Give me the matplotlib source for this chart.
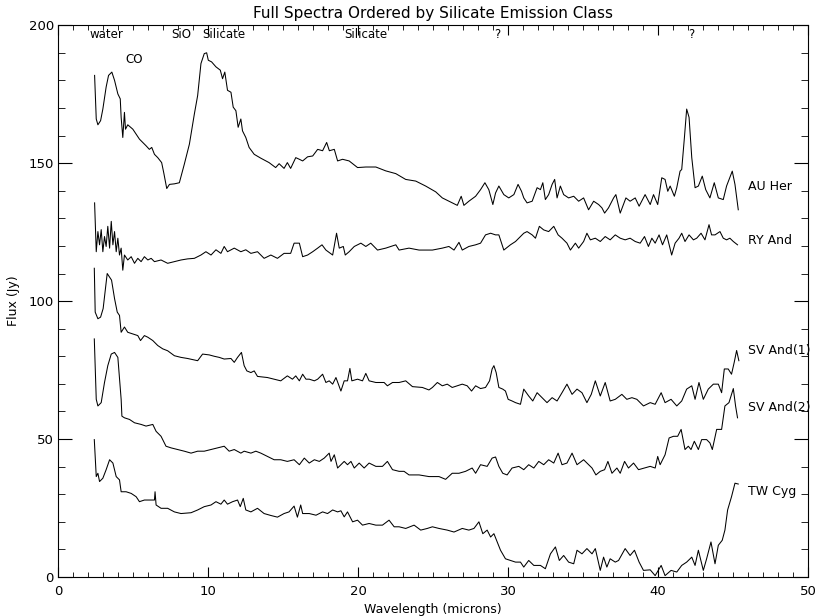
import numpy as np
import matplotlib.pyplot as plt

# wavelength (microns) and flux (Jy)
au_her_x = [2.44, 2.55, 2.66, 2.84, 2.99, 3.21, 3.37, 3.59, 3.77, 3.99, 4.15, 4.21, 4.32, 4.43, 4.5,
            4.65, 4.99, 5.21, 5.43, 5.65, 5.87, 6.09, 6.25, 6.43, 6.65, 6.91, 7.05, 7.25, 7.43, 7.76,
            8.09, 8.42, 8.76, 9.09, 9.31, 9.53, 9.75, 9.91, 10.02, 10.24, 10.53, 10.82, 10.97, 11.12,
            11.3, 11.53, 11.68, 11.86, 12.01, 12.19, 12.3, 12.52, 12.74, 13.08, 13.52, 14.07, 14.51,
            14.74, 15.07, 15.29, 15.51, 15.85, 16.09, 16.31, 16.64, 16.98, 17.31, 17.64, 17.91, 18.09,
            18.42, 18.64, 18.97, 19.41, 19.97, 20.52, 21.19, 21.85, 22.52, 23.18, 23.85, 24.51, 25.18,
            25.62, 26.06, 26.62, 26.88, 27.06, 27.39, 27.84, 28.17, 28.46, 28.72, 28.99, 29.17, 29.39,
            29.72, 30.05, 30.39, 30.67, 30.9, 31.05, 31.27, 31.61, 31.94, 32.16, 32.32, 32.49, 32.71,
            32.94, 33.11, 33.27, 33.49, 33.71, 34.04, 34.38, 34.71, 35.04, 35.37, 35.71, 36.04, 36.26,
            36.44, 36.7, 37.04, 37.19, 37.48, 37.86, 38.14, 38.48, 38.74, 39.14, 39.48, 39.7, 39.98,
            40.25, 40.47, 40.65, 40.81, 41.09, 41.25, 41.47, 41.58, 41.76, 41.91, 42.07, 42.25, 42.47,
            42.69, 42.95, 43.18, 43.46, 43.75, 44.02, 44.35, 44.57, 44.95, 45.13, 45.35]
au_her_y = [181.8, 166, 163.9, 165.4, 169.6, 177.6, 181.8, 183, 180, 175.1, 173.3, 166.6, 159.3, 168.4, 162.3,
            163.9, 162.3, 160.5, 158.7, 157.5, 156.3, 155, 155.7, 153.2, 152, 150.2, 146.5, 140.8, 142.3, 142.5,
            142.9, 149.6, 156.9, 167.8, 174.5, 186.1, 189.7, 190, 187.3, 186.7, 184.9, 183.7, 180.6, 183,
            176.4, 175.7, 170.3, 169, 163, 166, 161.7, 159.3, 155.7, 153.2, 151.8, 150.2, 148.4,
            149.8, 148.1, 150.2, 148.1, 152, 151.4, 150.8, 152.3, 152.6, 155, 154.5, 157.5, 154.5,
            155, 150.8, 151.4, 150.8, 148.4, 148.6, 148.6, 147.2, 146.2, 144.1, 143.5, 141.7, 139.6,
            137.4, 136.2, 134.7, 138, 134.7, 136.2, 138, 140.4, 142.9, 140.4, 135, 139.2, 141.7,
            138.6, 137.4, 138.6, 142.3, 139.8, 137.4, 135.6, 136.2, 141.1, 140.4, 142.9, 136.8, 138.6,
            142.3, 144.1, 137.4, 141.7, 138.6, 137.4, 138, 136.2, 137.4, 133.1, 136.2, 135, 133.8,
            131.9, 133.8, 137.4, 138.6, 131.9, 137.4, 136.2, 137.4, 134.4, 138.6, 135, 138.6, 135,
            144.7, 144.1, 139.8, 141.7, 138, 141.1, 147.1, 147.7, 159.3, 169.6, 166.6, 152, 141.1,
            141.7, 145.3, 140.4, 137.4, 142.9, 137.4, 136.8, 141.7, 147.1, 142.3, 133.1]

ry_and_x = [2.44, 2.48, 2.55, 2.66, 2.77, 2.88, 2.99, 3.1, 3.21, 3.32, 3.44, 3.55, 3.66, 3.77, 3.88,
            3.99, 4.1, 4.21, 4.32, 4.43, 4.65, 4.88, 5.1, 5.32, 5.54, 5.76, 5.99, 6.21, 6.43, 6.87,
            7.31, 7.76, 8.2, 8.64, 9.09, 9.53, 9.86, 10.2, 10.53, 10.86, 11.08, 11.3, 11.75, 12.19,
            12.52, 12.86, 13.3, 13.74, 14.19, 14.63, 15.07, 15.51, 15.74, 16.09, 16.31, 16.64, 16.98,
            17.31, 17.6, 17.86, 18.31, 18.57, 18.75, 19.02, 19.15, 19.41, 19.75, 20.19, 20.52, 20.85,
            21.3, 21.85, 22.52, 22.74, 23.4, 24.07, 24.96, 25.62, 26.06, 26.4, 26.73, 26.95, 27.39,
            27.84, 28.17, 28.5, 28.84, 29.17, 29.39, 29.72, 30.16, 30.5, 30.72, 31.05, 31.27, 31.61,
            31.83, 32.09, 32.38, 32.71, 33.05, 33.34, 33.6, 33.93, 34.16, 34.49, 34.71, 35.04, 35.26,
            35.49, 35.82, 36.15, 36.48, 36.81, 37.15, 37.48, 37.81, 38.14, 38.48, 38.81, 39.1, 39.36,
            39.59, 39.81, 40.07, 40.3, 40.58, 40.91, 41.14, 41.4, 41.58, 41.8, 42.07, 42.36, 42.58,
            42.87, 43.13, 43.4, 43.57, 43.8, 44.13, 44.35, 44.57, 44.79, 45.02, 45.3]
ry_and_y = [135.6, 129.5, 117.9, 125.2, 120.4, 125.9, 117.9, 123.4, 119.8, 127.1, 119.2, 128.9, 120.4, 125.2, 117.9,
            122.8, 116.7, 119.2, 111.2, 116.7, 114.9, 116.1, 113.7, 115.5, 114.3, 116.1, 114.9, 115.5, 114.3, 114.9,
            113.7, 114.3, 114.9, 115.3, 115.5, 116.7, 117.9, 116.7, 118.6, 117.3, 119.8, 117.9, 119.2, 117.9,
            118.6, 117.3, 117.9, 115.5, 116.7, 115.5, 117.3, 117.3, 121, 121, 116.1, 116.7, 117.9,
            119.2, 120.4, 118.5, 116.7, 124.6, 119.2, 119.8, 116.7, 117.9, 119.8, 121, 119.8, 121,
            118.5, 119.2, 120.4, 118.5, 119.2, 118.5, 118.5, 119.2, 119.8, 118.5, 121.3, 118.5, 119.8,
            120.4, 121, 124, 124.6, 124, 124, 118.5, 120.4, 121.6, 122.8, 124.6, 125.2, 124,
            122.8, 127.1, 125.8, 125.2, 127.1, 124, 122.8, 121, 118.5, 121, 119.2, 121.6, 124.6,
            122.2, 122.8, 121.6, 123.4, 122.2, 124, 122.8, 122.2, 122.8, 121.6, 121, 123.4, 119.8,
            122.8, 121, 124, 120.4, 124, 116.7, 121, 122.8, 124.6, 121.6, 124, 122.2, 122.8,
            124.6, 122.2, 127.7, 124, 124, 125.2, 122.8, 122.2, 122.8, 121.6, 120.4]

sv_and1_x = [2.42, 2.48, 2.66, 2.84, 3.01, 3.28, 3.57, 3.77, 3.95, 4.1, 4.21, 4.43, 4.65, 4.99, 5.32,
             5.5, 5.76, 5.99, 6.32, 6.65, 6.98, 7.31, 7.76, 8.2, 8.64, 8.98, 9.31, 9.64, 10.08, 10.42,
             10.75, 11.08, 11.53, 11.75, 11.97, 12.23, 12.41, 12.59, 12.86, 13.08, 13.3, 13.96, 14.41,
             14.85, 15.29, 15.63, 15.85, 16.09, 16.31, 16.53, 16.75, 17.09, 17.31, 17.64, 17.86, 18.08,
             18.31, 18.53, 18.86, 19.08, 19.3, 19.46, 19.59, 19.97, 20.3, 20.52, 20.74, 21.19, 21.74,
             21.96, 22.3, 22.74, 23.18, 23.63, 24.29, 24.73, 24.96, 25.29, 25.62, 25.95, 26.28, 26.62,
             26.95, 27.28, 27.57, 27.84, 28.17, 28.5, 28.77, 28.94, 29.06, 29.21, 29.39, 29.65, 29.83,
             30.01, 30.27, 30.5, 30.83, 31.05, 31.38, 31.65, 31.94, 32.27, 32.6, 32.94, 33.27, 33.6,
             33.93, 34.27, 34.6, 34.93, 35.26, 35.55, 35.82, 36.15, 36.48, 36.81, 37.15, 37.59, 37.92,
             38.26, 38.59, 39.03, 39.48, 39.81, 40.21, 40.47, 40.87, 41.25, 41.58, 41.91, 42.25, 42.47,
             42.73, 43.02, 43.35, 43.69, 44.02, 44.24, 44.42, 44.68, 44.9, 45.08, 45.24, 45.39]
sv_and1_y = [111.9, 96, 93.6, 94.2, 97.3, 110, 107.6, 100.9, 96, 94.8, 88.7, 90.6, 88.7, 88.1, 87.5,
             85.7, 87.5, 86.9, 85.7, 83.9, 82.7, 82, 80.2, 79.6, 79.2, 78.8, 78.4, 80.8, 80.5, 80,
             79.6, 79, 79.2, 77.8, 79.6, 81.4, 76.6, 74.7, 74.1, 74.7, 72.7, 72.3, 71.7,
             71.1, 72.9, 71.7, 72.9, 71.1, 73.5, 71.7, 71.7, 71.1, 71.7, 73.5, 70.5, 71.1,
             69.9, 72.3, 67.4, 71.1, 71.1, 75.6, 71.1, 71.7, 71.1, 73.8, 71.1, 70.5, 70.5,
             69.3, 70.5, 70.5, 71.1, 69, 68.7, 67.8, 68.7, 70.5, 69.3, 69.9, 68.7, 69.3,
             69.9, 69.3, 67.4, 69.3, 68.3, 68.7, 71.1, 75.4, 76.6, 74.1, 68.7, 68.1, 67.4,
             64.4, 63.8, 63.2, 62.6, 68.1, 65.6, 63.8, 66.8, 65, 63.2, 65, 63.8, 66.8,
             69.9, 66.2, 68.1, 66.8, 63.2, 66.2, 71.1, 65.6, 70.5, 63.8, 64.4, 66.2, 64.4,
             65, 64.4, 62, 63.2, 62.6, 66.8, 63.2, 64.4, 62, 63.8, 68.1, 69.3, 64.4,
             70.5, 64.4, 68.1, 69.9, 69.9, 66.8, 75.4, 75.4, 73.5, 77.8, 82.1, 78.4]

sv_and2_x = [2.42, 2.55, 2.66, 2.88, 3.1, 3.32, 3.55, 3.77, 3.99, 4.21, 4.26, 4.43, 4.77, 5.1, 5.54,
             5.87, 6.32, 6.54, 6.87, 7.2, 7.54, 7.98, 8.42, 8.87, 9.31, 9.75, 10.2, 10.64, 11.08, 11.41,
             11.75, 12.19, 12.41, 12.86, 13.19, 13.52, 13.96, 14.41, 14.85, 15.29, 15.74, 16.09, 16.42,
             16.75, 17.09, 17.42, 17.75, 18.08, 18.2, 18.42, 18.64, 18.86, 19.08, 19.3, 19.53, 19.75,
             20.08, 20.41, 20.74, 21.19, 21.63, 21.96, 22.3, 22.74, 23.07, 23.4, 24.07, 24.73, 25.4,
             25.84, 26.28, 26.73, 27.17, 27.61, 27.84, 28.17, 28.61, 28.94, 29.17, 29.39, 29.65, 29.94,
             30.27, 30.72, 31.05, 31.38, 31.72, 32.05, 32.38, 32.71, 33.05, 33.34, 33.6, 33.93, 34.27,
             34.6, 35.04, 35.37, 35.6, 35.86, 36.15, 36.44, 36.66, 36.93, 37.26, 37.48, 37.77, 38.03,
             38.37, 38.7, 39.1, 39.48, 39.81, 39.98, 40.14, 40.47, 40.74, 41.03, 41.31, 41.54, 41.8,
             42.02, 42.2, 42.42, 42.69, 42.91, 43.24, 43.46, 43.62, 43.91, 44.24, 44.46, 44.73, 45.02,
             45.17, 45.3]
sv_and2_y = [86.3, 64.4, 62, 63.2, 70.5, 76.6, 80.8, 81.4, 79.6, 64.4, 58.3, 57.7, 57.1, 55.9, 55.3,
             54.7, 55.3, 52.8, 51, 47.4, 46.8, 46.2, 45.6, 44.9, 45.6, 45.6, 46.2, 46.8, 47.4, 45.6,
             46.2, 44.9, 45.6, 44.9, 45.6, 44.9, 43.7, 42.5, 42.5, 41.9, 42.5, 40.7, 43.1,
             41.3, 42.5, 41.9, 43.1, 44.9, 41.9, 44.3, 39.5, 40.7, 41.9, 40.7, 41.9, 39.5,
             41.3, 39.5, 41.3, 40.1, 40.1, 41.9, 38.9, 38.3, 38.3, 37, 37, 36.4, 36.4,
             35.4, 37.6, 37.6, 38.3, 39.5, 37.6, 40.7, 40.1, 43.1, 43.5, 40.1, 37.6, 37,
             39.5, 40.1, 38.9, 40.7, 39.5, 41.9, 40.7, 42.5, 41.3, 44.9, 40.7, 41.3, 44.9,
             40.7, 42.5, 40.7, 39.5, 37, 38.3, 38.9, 41.9, 37.6, 39.5, 37.6, 41.9, 39.5,
             41.3, 38.9, 39.5, 40.1, 39.5, 43.7, 40.7, 44.3, 50.4, 51, 51, 53.5, 46.2,
             47.4, 46.2, 49.2, 46.2, 49.8, 49.8, 48.6, 46.2, 53.5, 53.5, 62, 63.2, 68.3,
             62, 57.7]

tw_cyg_x = [2.42, 2.55, 2.66, 2.77, 2.99, 3.21, 3.44, 3.66, 3.88, 4.1, 4.21, 4.54, 4.88, 5.21, 5.43,
            5.76, 6.1, 6.43, 6.47, 6.54, 6.87, 7.31, 7.76, 8.2, 8.87, 9.31, 9.75, 10.2, 10.53, 10.86,
            11.08, 11.3, 11.64, 11.97, 12.15, 12.35, 12.52, 12.86, 13.3, 13.74, 14.19, 14.63, 15.07,
            15.4, 15.74, 15.96, 16.18, 16.31, 16.75, 17.2, 17.64, 17.97, 18.31, 18.64, 18.86, 19.08,
            19.3, 19.64, 19.97, 20.3, 20.74, 21.19, 21.63, 22.07, 22.41, 22.74, 23.18, 23.74, 24.18,
            24.62, 24.96, 25.4, 25.95, 26.4, 26.95, 27.39, 27.73, 28.06, 28.32, 28.61, 28.84, 29.06,
            29.28, 29.5, 29.83, 30.16, 30.5, 30.83, 31.05, 31.38, 31.72, 32.16, 32.49, 32.83, 33.16,
            33.42, 33.71, 34.04, 34.38, 34.6, 34.93, 35.26, 35.6, 35.82, 36.15, 36.37, 36.59, 36.81,
            37.15, 37.37, 37.81, 38.14, 38.43, 38.74, 39.03, 39.48, 39.81, 40.21, 40.47, 40.87, 41.25,
            41.58, 41.91, 42.25, 42.47, 42.69, 43.02, 43.24, 43.53, 43.8, 44.02, 44.28, 44.46, 44.64,
            44.9, 45.13, 45.35]
tw_cyg_y = [49.8, 36.4, 37.6, 34.6, 35.8, 38.9, 42.5, 41.3, 36.4, 35.2, 30.9, 30.9, 30.3, 29.1, 27.3,
            27.9, 27.9, 27.9, 30.9, 26.1, 24.9, 24.9, 23.6, 23, 23.3, 24.3, 25.5, 26.1, 27.3, 26.4,
            27.9, 26.4, 27.3, 27.9, 25.5, 28.5, 24.3, 23.6, 24.9, 23, 22.3, 21.7, 23,
            23.6, 25.7, 21.7, 26.1, 23, 23, 22.4, 23.6, 23, 24.3, 23.6, 24, 21.8,
            23.6, 20, 20.6, 18.8, 19.4, 18.8, 18.8, 20.6, 18.2, 18.2, 17.6, 18.8, 17,
            17.6, 18.2, 17.6, 17, 16.3, 17.6, 17, 17.6, 20, 15.7, 17, 14.5, 15.7,
            12.7, 9.7, 6.6, 6, 5.4, 5.4, 3.6, 6, 4.2, 4.2, 3, 8.4, 10.9,
            6, 7.8, 5.4, 4.8, 9.7, 8.4, 10.3, 8.4, 10.3, 2.4, 7.2, 3.6, 6.6,
            5.4, 6, 10.3, 7.8, 9.7, 5.4, 2.4, 2.6, 0.5, 4.2, 0.5, 2.4, 1.8,
            4.2, 5.4, 7.2, 4.2, 9.7, 2.4, 6.6, 12.7, 4.8, 11.5, 13.3, 17, 24.3,
            29.1, 34, 33.7]

star_names = ["AU Her", "RY And", "SV And(1)", "SV And(2)", "TW Cyg"]
label_y = [141.6, 121.8, 82, 61.4, 30.9]

feature_names = ["water", "CO", "SiO", "Silicate", "Silicate", "?", "?"]
feature_x = [3.2, 5.1, 8.22, 11.04, 20.5, 29.3, 42.2]
feature_y = [196.5, 187.5, 196.5, 196.5, 196.5, 196.5, 196.5]

plt.rcParams['font.family'] = 'DejaVu Sans'
fig = plt.figure(figsize=(8.18, 6.16), dpi=100)
ax = fig.add_axes([0.0709, 0.0633, 0.9169, 0.8958])

series = [(au_her_x, au_her_y), (ry_and_x, ry_and_y), (sv_and1_x, sv_and1_y),
          (sv_and2_x, sv_and2_y), (tw_cyg_x, tw_cyg_y)]
for (xs, ys), name, ly in zip(series, star_names, label_y):
    ax.plot(xs, ys, color='black', lw=0.75)
    ax.text(46.0, ly, name, fontsize=9, va='center', ha='left')

for name, fx, fy in zip(feature_names, feature_x, feature_y):
    ax.text(fx, fy, name, fontsize=8.5, ha='center', va='center')

ax.set_xlim(0, 50)
ax.set_ylim(0, 200)
ax.set_xticks(np.arange(0, 51, 10))
ax.set_xticks(np.arange(0, 51, 1), minor=True)
ax.set_yticks(np.arange(0, 201, 50))
ax.set_yticks(np.arange(0, 201, 10), minor=True)
ax.tick_params(axis='x', which='major', direction='in', length=7, top=True, labelsize=9.5, pad=6)
ax.tick_params(axis='x', which='minor', direction='in', length=3.5, top=True)
ax.tick_params(axis='y', which='major', direction='in', length=10, right=True, labelsize=9.5, pad=3)
ax.tick_params(axis='y', which='minor', direction='in', length=5, right=True)
for sp in ax.spines.values():
    sp.set_linewidth(0.8)

ax.set_xlabel("Wavelength (microns)", fontsize=9, labelpad=3)
ax.set_ylabel("Flux (Jy)", fontsize=9, labelpad=6)
ax.set_title("Full Spectra Ordered by Silicate Emission Class", fontsize=11, pad=5)

fig.savefig('out.png', dpi=100)
